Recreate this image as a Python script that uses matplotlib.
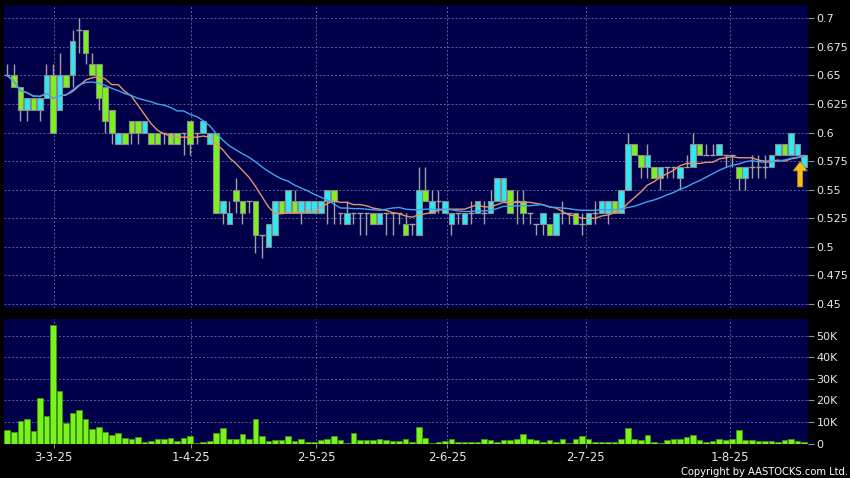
import matplotlib
matplotlib.use("Agg")
import matplotlib.pyplot as plt
import numpy as np
import pandas as pd

# daily OHLC, one entry per trading day (about 20 Feb 2025 to 19 Aug 2025)
opens = [.65, .65, .64, .62, .63, .62, .63, .65, .62, .65, .65, .69, .69, .66, .66, .64, .62, .59, .60, .61,
         .61, .60, .60, .60, .60, .60, .60, .60, .61, .60, .60, .59, .60, .53, .52, .55, .54, .54, .54, .51,
         .50, .51, .54, .53, .54, .53, .53, .53, .53, .54, .55, .53, .52, .53, .53, .53, .53, .52, .53, .53,
         .53, .52, .52, .51, .55, .53, .54, .53, .52, .53, .52, .53, .53, .53, .53, .54, .54, .55, .54, .54,
         .53, .52, .52, .52, .51, .53, .53, .53, .52, .52, .53, .53, .53, .54, .53, .55, .59, .58, .57, .57,
         .56, .57, .57, .56, .57, .57, .59, .58, .58, .58, .58, .58, .57, .56, .57, .57, .57, .57, .58, .59,
         .58, .58, .57]
highs = [.66, .66, .64, .63, .63, .63, .66, .66, .67, .65, .69, .70, .69, .67, .66, .64, .62, .60, .60, .61,
         .61, .61, .60, .60, .60, .60, .60, .60, .61, .60, .61, .60, .60, .54, .54, .56, .54, .54, .54, .51,
         .52, .54, .54, .55, .55, .54, .54, .54, .54, .55, .55, .53, .54, .53, .53, .53, .53, .53, .53, .53,
         .53, .53, .52, .57, .57, .55, .55, .54, .53, .53, .53, .54, .54, .54, .55, .56, .56, .55, .55, .55,
         .53, .52, .53, .52, .53, .54, .53, .53, .53, .53, .54, .54, .54, .54, .55, .60, .59, .58, .59, .57,
         .57, .57, .57, .57, .58, .60, .59, .59, .59, .59, .58, .58, .57, .57, .58, .58, .58, .58, .59, .59,
         .60, .59, .58]
lows = [.65, .64, .61, .61, .62, .61, .63, .60, .62, .64, .64, .67, .66, .65, .62, .60, .59, .59, .59, .59,
        .59, .60, .59, .59, .59, .59, .59, .58, .58, .59, .60, .59, .53, .52, .52, .53, .52, .53, .495, .49,
        .50, .51, .53, .53, .53, .52, .53, .53, .53, .52, .52, .52, .52, .52, .51, .51, .52, .52, .51, .51,
        .52, .51, .51, .51, .54, .53, .53, .53, .51, .52, .52, .52, .53, .52, .53, .54, .54, .53, .52, .52,
        .52, .51, .51, .51, .51, .52, .52, .52, .51, .52, .52, .53, .52, .53, .53, .55, .58, .56, .56, .56,
        .55, .56, .56, .55, .57, .57, .58, .58, .58, .58, .57, .57, .55, .55, .56, .56, .56, .57, .58, .58,
        .58, .58, .57]
closes = [.65, .64, .62, .63, .62, .63, .65, .60, .65, .64, .68, .69, .67, .65, .63, .61, .60, .60, .59, .60,
          .60, .61, .59, .59, .60, .59, .59, .60, .59, .60, .61, .60, .53, .54, .53, .54, .53, .54, .51, .51,
          .52, .54, .53, .55, .53, .54, .54, .54, .54, .55, .54, .53, .53, .53, .53, .53, .52, .53, .53, .53,
          .53, .51, .52, .55, .54, .54, .54, .54, .53, .53, .53, .53, .54, .53, .54, .56, .56, .53, .54, .53,
          .53, .52, .53, .51, .53, .53, .53, .52, .52, .53, .53, .54, .54, .53, .55, .59, .58, .57, .58, .56,
          .57, .57, .57, .57, .57, .59, .58, .58, .58, .59, .58, .58, .56, .57, .57, .57, .57, .58, .59, .58,
          .60, .59, .58]
# volume in thousands of shares
volume = [6.2, 5.3, 10.6, 11.2, 5.7, 21.3, 13, 55, 24.2, 9.6, 14.4, 15.7, 11.6, 6.7, 7.6, 5.3, 4.0, 4.7, 2.6, 2.3,
          3.1, 0.5, 1.2, 1.9, 1.9, 2.6, 1.2, 2.6, 3.3, 0.2, 0.5, 1.1, 5.0, 7.0, 1.9, 2.3, 4.2, 2.0, 11.3, 3.4,
          1.1, 1.5, 1.5, 3.4, 1.2, 1.9, 0.9, 0.5, 1.4, 1.9, 3.3, 1.4, 0.1, 4.7, 1.4, 1.4, 1.4, 1.9, 1.5, 1.1,
          1.2, 1.9, 0.6, 7.9, 2.6, 0.3, 0.6, 1.1, 2.0, 0.6, 0.8, 0.8, 0.6, 2.0, 1.4, 0.9, 1.4, 1.4, 2.3, 4.3,
          2.0, 1.5, 0.5, 1.5, 0.8, 2.0, 0.3, 1.9, 3.6, 1.9, 0.5, 0.5, 0.5, 0.5, 1.9, 7.3, 2.2, 1.5, 3.9, 0.5,
          0.15, 1.5, 2.2, 2.0, 3.0, 3.9, 1.4, 0.6, 1.1, 2.3, 1.4, 2.3, 6.2, 1.4, 1.5, 1.1, 1.1, 1.2, 0.5, 1.7,
          1.9, 1.1, 0.9]
date_labels = ['3-3-25', '1-4-25', '2-5-25', '2-6-25', '2-7-25', '1-8-25']
price_ticks = [0.45, 0.475, 0.5, 0.525, 0.55, 0.575, 0.6, 0.625, 0.65, 0.675, 0.7]
vol_ticks = [0, 10, 20, 30, 40, 50]

o = np.array(opens)
h = np.array(highs)
l = np.array(lows)
c = np.array(closes)
x = np.arange(len(c))
ma10 = pd.Series(c).rolling(10, min_periods=1).mean()
ma20 = pd.Series(c).rolling(20, min_periods=1).mean()

BG = '#00004a'
GREEN = '#7cf21c'
CYAN = '#2ee8f4'
GRID = '#5c5c96'
TXT = '#e8e8e8'

W, H = 850, 478
fig = plt.figure(figsize=(8.5, 4.78), dpi=100, facecolor='black')
ax = fig.add_axes([4 / W, 1 - 308 / H, 804 / W, 303 / H], facecolor=BG)
axv = fig.add_axes([4 / W, 1 - 443.5 / H, 804 / W, 124.5 / H], facecolor=BG, sharex=ax)

tick_pos = [7.1, 28.2, 47.3, 67.4, 88.6, 110.6]

for a in (ax, axv):
    for s in a.spines.values():
        s.set_visible(False)
    a.yaxis.tick_right()
    a.set_xticks(tick_pos)
    a.grid(True, color=GRID, linestyle=(0, (2, 2)), linewidth=0.7)
    a.set_axisbelow(True)
    a.tick_params(axis='y', colors='#909090', labelcolor=TXT, labelsize=8, length=4, pad=2)
    a.tick_params(axis='x', colors='#909090', labelcolor=TXT, labelsize=8.5, length=3, pad=2.5)

# wicks, bodies and dojis
ax.vlines(x, l, h, color='#a0a0a0', linewidth=1, zorder=2)
up = c > o
down = c < o
ax.bar(x[up], (c - o)[up], bottom=o[up], width=0.86, color=CYAN,
       edgecolor='#8a8a8a', linewidth=0.8, zorder=3)
ax.bar(x[down], (o - c)[down], bottom=c[down], width=0.86, color=GREEN,
       edgecolor='#8a8a8a', linewidth=0.8, zorder=3)
flat = c == o
ax.hlines(c[flat], x[flat] - 0.43, x[flat] + 0.43, color='#a0a0a0', linewidth=1, zorder=3)

ax.plot(x, ma10, color='#e3946a', linewidth=1, zorder=4)
ax.plot(x, ma20, color='#3fa4ee', linewidth=1, zorder=4)

ax.annotate('', xy=(121.4, 0.5745), xytext=(121.4, 0.5525),
            arrowprops=dict(facecolor='#f6c21c', edgecolor='#c88a00', linewidth=0.6,
                            width=3.6, headwidth=10, headlength=6.5), zorder=5)

ax.set_xlim(-0.5, 122.6)
ax.set_ylim(0.4465, 0.7117)
ax.set_yticks(price_ticks)
ax.set_yticklabels(['%g' % t for t in price_ticks])
ax.tick_params(axis='x', labelbottom=False, length=0)

axv.bar(x, volume, width=0.86, color=GREEN, edgecolor='#3c9a10', linewidth=0.6, zorder=3)
axv.set_ylim(0, 57.9)
axv.set_yticks(vol_ticks)
axv.set_yticklabels(['0'] + ['%dK' % v for v in vol_ticks[1:]])
axv.set_xticklabels(date_labels)

fig.text(0.998, 0.002, 'Copyright by AASTOCKS.com Ltd.', ha='right', va='bottom',
         color='white', fontsize=7.2)

fig.savefig('out.png', dpi=100, facecolor='black')
